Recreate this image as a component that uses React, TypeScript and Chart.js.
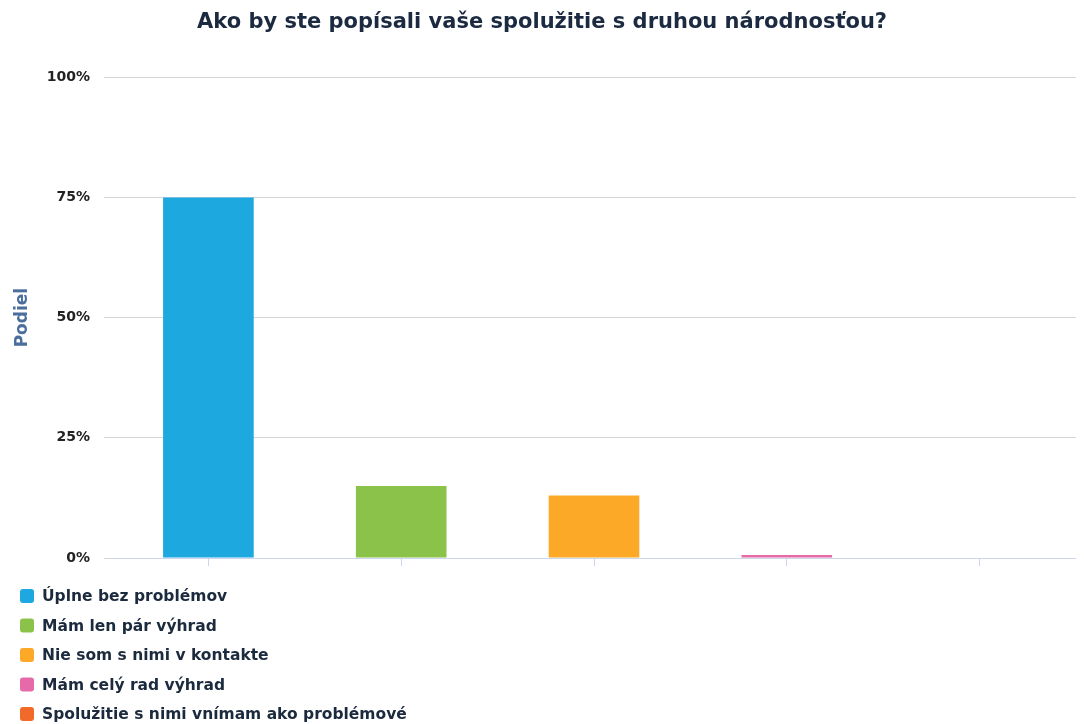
import React, { useEffect, useRef } from "react";
import { Chart, registerables } from "chart.js";

Chart.register(...registerables);

const chartTitle = "Ako by ste popísali vaše spolužitie s druhou národnosťou?";
const yAxisTitle = "Podiel";
const categories = [
  "Úplne bez problémov",
  "Mám len pár výhrad",
  "Nie som s nimi v kontakte",
  "Mám celý rad výhrad",
  "Spolužitie s nimi vnímam ako problémové",
];
const values = [75, 15, 13, 0.6, 0];
const colors = ["#1ea8e0", "#8bc34a", "#fba927", "#e56aa7", "#f26a2a"];
const yTickValues = [0, 25, 50, 75, 100];

const FONT = "'DejaVu Sans', 'Open Sans', sans-serif";

const listLegend = {
  id: "listLegend",
  afterDraw(chart: any) {
    const ctx = chart.ctx;
    const xScale = chart.scales.x;
    const startY = xScale.bottom + 18;
    const rowH = 29.5;
    ctx.save();
    ctx.font = `bold 15.5px ${FONT}`;
    ctx.textBaseline = "middle";
    ctx.textAlign = "left";
    categories.forEach((label, i) => {
      const cy = startY + i * rowH;
      ctx.fillStyle = colors[i];
      ctx.beginPath();
      (ctx as any).roundRect(12, cy - 7, 14, 14, 3);
      ctx.fill();
      ctx.fillStyle = "#1c2a3e";
      ctx.fillText(label, 34, cy + 1);
    });
    ctx.restore();
  },
};

export default function App() {
  const ref = useRef<HTMLCanvasElement | null>(null);
  useEffect(() => {
    if (!ref.current) return;
    const datasets = categories.map((label, i) => ({
      label,
      data: values.map((v, j) => (j === i ? v : null)),
      backgroundColor: colors[i],
      borderWidth: 0,
      grouped: false,
      categoryPercentage: 1,
      barPercentage: 0.47,
    }));
    const chart = new Chart(ref.current, {
      type: "bar",
      data: { labels: categories, datasets },
      options: {
        animation: false,
        responsive: false,
        maintainAspectRatio: false,
        layout: { padding: { left: 0, right: 0, top: 2, bottom: 146 } },
        plugins: {
          legend: { display: false },
          tooltip: { enabled: false },
          title: {
            display: true,
            text: chartTitle,
            color: "#1b2a41",
            font: { family: FONT, size: 21, weight: "bold" },
            padding: { top: 0, bottom: 42 },
          },
        },
        scales: {
          x: {
            grid: {
              display: true,
              offset: false,
              drawOnChartArea: false,
              drawTicks: true,
              tickLength: 8,
              color: "#ccd6eb",
            },
            border: { display: true, color: "#ccd6eb", width: 1 },
            ticks: { callback: () => "", padding: 0 },
            afterFit: (s: any) => {
              s.height = 20;
            },
          },
          y: {
            min: 0,
            max: 100,
            afterBuildTicks: (s: any) => {
              s.ticks = yTickValues.map((v) => ({ value: v }));
            },
            grid: { color: "#d6d6d6", tickLength: 8, lineWidth: 1 },
            border: { display: false },
            ticks: {
              callback: (v: any) => v + "%",
              color: "#222222",
              font: { family: FONT, size: 14, weight: "bold" },
              padding: 14,
            },
            title: {
              display: true,
              text: yAxisTitle,
              color: "#4a6f9c",
              font: { family: FONT, size: 17, weight: "bold" },
              padding: { top: 4, bottom: 4 },
            },
            afterFit: (s: any) => {
              s.width = 104;
            },
          },
        },
      },
      plugins: [listLegend],
    });
    return () => chart.destroy();
  }, []);
  return (
    <div style={{ width: 1068, height: 716 }}>
      <canvas ref={ref} width={1068} height={716} style={{ display: "block" }} />
    </div>
  );
}
